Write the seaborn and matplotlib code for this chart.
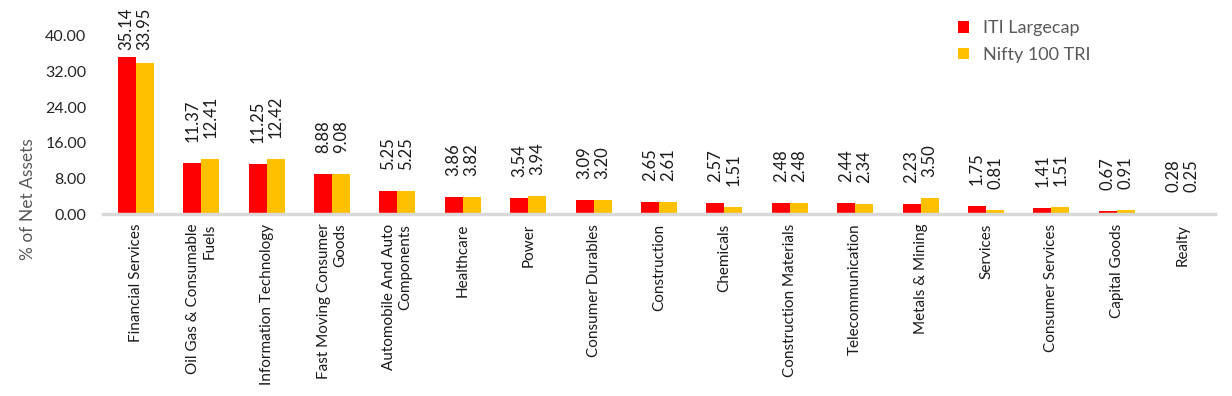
import matplotlib
matplotlib.use("Agg")
import matplotlib.pyplot as plt
import seaborn as sns
import pandas as pd

categories = [
    "Financial Services", "Oil Gas & Consumable\nFuels", "Information Technology",
    "Fast Moving Consumer\nGoods", "Automobile And Auto\nComponents", "Healthcare",
    "Power", "Consumer Durables", "Construction", "Chemicals",
    "Construction Materials", "Telecommunication", "Metals & Mining",
    "Services", "Consumer Services", "Capital Goods", "Realty",
]
iti_largecap = [35.14, 11.37, 11.25, 8.88, 5.25, 3.86, 3.54, 3.09, 2.65, 2.57,
                2.48, 2.44, 2.23, 1.75, 1.41, 0.67, 0.28]
nifty100_tri = [33.95, 12.41, 12.42, 9.08, 5.25, 3.82, 3.94, 3.20, 2.61, 1.51,
                2.48, 2.34, 3.50, 0.81, 1.51, 0.91, 0.25]
series_names = ["ITI Largecap", "Nifty 100 TRI"]
colors = ["#FF0000", "#FFC000"]
y_ticks = [0, 8, 16, 24, 32, 40]

df = pd.DataFrame({
    "Sector": categories * 2,
    "Series": [series_names[0]] * len(categories) + [series_names[1]] * len(categories),
    "Value": iti_largecap + nifty100_tri,
})

sns.set_style("white")
plt.rcParams["font.family"] = ["Lato", "DejaVu Sans"]

W, H = 1232, 396
fig = plt.figure(figsize=(W / 100, H / 100), dpi=100)
ax = fig.add_axes([103 / W, 1 - 214 / H, 1112 / W, 196 / H])

sns.barplot(data=df, x="Sector", y="Value", hue="Series", order=categories,
            hue_order=series_names, palette=colors, width=0.55, gap=0,
            saturation=1, linewidth=0, ax=ax, legend=True)

ax.set_xlim(-0.5, len(categories) - 0.5)
ax.set_ylim(0, 44)
ax.set_yticks(y_ticks)
ax.set_yticklabels([f"{v:.2f}" for v in y_ticks], fontsize=11.5, color="#262626")
ax.tick_params(axis="y", length=0, pad=12)
ax.tick_params(axis="x", length=0, pad=7)
ax.set_xticks(range(len(categories)))
ax.set_xticklabels(categories, rotation=90, fontsize=11, color="#1a1a1a",
                   va="top", ha="center", multialignment="right")
ax.set_xlabel("")
ax.set_ylabel("")
for s in ["top", "right", "left"]:
    ax.spines[s].set_visible(False)
ax.spines["bottom"].set_color("#D9D9D9")
ax.spines["bottom"].set_linewidth(2.5)
ax.grid(False)

fig.text(28 / W, 1 - 199 / H, "% of Net Assets", rotation=90, ha="center",
         va="center", fontsize=12.5, color="#595959")

px_per_unit = 196 / 44
offset = 21 / px_per_unit
cap = (214 - 50) / px_per_unit
for cont in ax.containers:
    for bar in cont:
        h = bar.get_height()
        x = bar.get_x() + bar.get_width() / 2
        ax.text(x, min(h + offset, cap), f"{h:.2f}", rotation=90, ha="center",
                va="bottom", fontsize=12, color="#1a1a1a", clip_on=False)

handles, labels = ax.get_legend_handles_labels()
ax.legend(handles, labels, loc="upper left", bbox_to_anchor=(942 / W, 1 - 4 / H),
          bbox_transform=fig.transFigure, frameon=False, fontsize=13,
          handlelength=0.6, handleheight=0.6, handletextpad=0.75, labelspacing=0.6,
          labelcolor="#595959")

fig.savefig("out.png", dpi=100)
